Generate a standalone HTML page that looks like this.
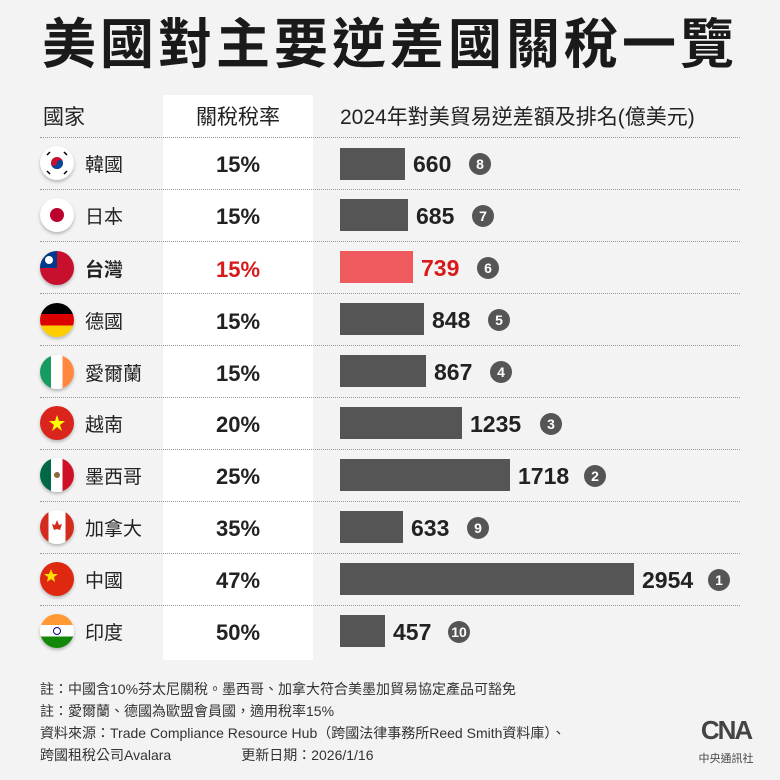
<!DOCTYPE html>
<html><head><meta charset="utf-8"><style>
body{margin:0;width:780px;height:780px;background:#f3f3f3;font-family:"Liberation Sans","Noto Sans CJK TC",sans-serif;position:relative;overflow:hidden;color:#222}
.a{position:absolute}
.title{left:0;width:780px;top:10px;text-align:center;font-size:54px;font-weight:bold;letter-spacing:4px;color:#1a1a1a;line-height:70px}
.col{left:163px;top:95px;width:150px;height:565px;background:#fff}
.hd{top:101px;font-size:21px;color:#222}
.div{left:40px;width:700px;border-top:1.5px dotted #999}
.flag{width:34px;height:34px;border-radius:50%;overflow:hidden;box-shadow:0 2px 3px rgba(0,0,0,.25)}
.nm{left:85px;font-size:19px}
.rt{left:163px;width:150px;text-align:center;font-size:22px;font-weight:bold}
.bar{left:340px;height:32px;background:#555}
.val{font-size:23px;font-weight:bold;color:#222}
.bd{width:22px;height:22px;border-radius:50%;background:#555;color:#fff;font-size:14px;font-weight:bold;text-align:center;line-height:22px}
.note{left:40px;font-size:14px;color:#333}
</style></head><body>
<div class="a title">美國對主要逆差國關稅一覽</div>
<div class="a col"></div>
<div class="a hd" style="left:43px">國家</div>
<div class="a hd" style="left:163px;width:150px;text-align:center">關稅稅率</div>
<div class="a hd" style="left:340px">2024年對美貿易逆差額及排名(億美元)</div>
<div class="a div" style="top:137px"></div>
<div class="a div" style="top:189px"></div>
<div class="a div" style="top:241px"></div>
<div class="a div" style="top:293px"></div>
<div class="a div" style="top:345px"></div>
<div class="a div" style="top:397px"></div>
<div class="a div" style="top:449px"></div>
<div class="a div" style="top:501px"></div>
<div class="a div" style="top:553px"></div>
<div class="a div" style="top:605px"></div>

<div class="a flag" style="left:40px;top:146px;background:#fff"><svg width="34" height="34"><circle cx="17" cy="17" r="6" fill="#c8102e"/><path d="M11 17a6 6 0 0 0 12 0a3 3 0 0 0-6 0a3 3 0 0 1-6 0z" fill="#0047a0"/><g stroke="#000" stroke-width="1.5"><line x1="7" y1="9" x2="10" y2="6"/><line x1="24" y1="6" x2="27" y2="9"/><line x1="7" y1="25" x2="10" y2="28"/><line x1="24" y1="28" x2="27" y2="25"/></g></svg></div>
<div class="a flag" style="left:40px;top:198px;background:#fff"><svg width="34" height="34"><circle cx="17" cy="17" r="7" fill="#bc002d"/></svg></div>
<div class="a flag" style="left:40px;top:251px;background:#c8102e"><svg width="34" height="34"><rect width="17" height="17" fill="#003a8c"/><circle cx="9" cy="9" r="4" fill="#fff"/></svg></div>
<div class="a flag" style="left:40px;top:303px;background:linear-gradient(#000 33%,#dd0000 33% 66%,#ffce00 66%)"></div>
<div class="a flag" style="left:40px;top:355px;background:linear-gradient(90deg,#169b62 33%,#fff 33% 66%,#ff883e 66%)"></div>
<div class="a flag" style="left:40px;top:406px;background:#da251d"><svg width="34" height="34"><polygon points="17,9 19,15 25,15 20,19 22,25 17,21 12,25 14,19 9,15 15,15" fill="#ff0"/></svg></div>
<div class="a flag" style="left:40px;top:458px;background:linear-gradient(90deg,#006847 33%,#fff 33% 66%,#ce1126 66%)"><svg width="34" height="34"><circle cx="17" cy="17" r="3" fill="#8a6a3a"/></svg></div>
<div class="a flag" style="left:40px;top:510px;background:linear-gradient(90deg,#d52b1e 25%,#fff 25% 75%,#d52b1e 75%)"><svg width="34" height="34"><polygon points="17,10 19,15 22,14 20,20 17,19 14,20 12,14 15,15" fill="#d52b1e"/></svg></div>
<div class="a flag" style="left:40px;top:562px;background:#de2910"><svg width="34" height="34"><polygon points="11,7 13,12 18,12 14,15 15,20 11,17 7,20 8,15 4,12 9,12" fill="#ffde00"/></svg></div>
<div class="a flag" style="left:40px;top:614px;background:linear-gradient(#ff9933 33%,#fff 33% 66%,#138808 66%)"><svg width="34" height="34"><circle cx="17" cy="17" r="3.5" fill="none" stroke="#000080" stroke-width="1"/></svg></div>

<div class="a nm" style="top:150px">韓國</div>
<div class="a nm" style="top:202px">日本</div>
<div class="a nm" style="top:255px;font-weight:bold">台灣</div>
<div class="a nm" style="top:307px">德國</div>
<div class="a nm" style="top:359px">愛爾蘭</div>
<div class="a nm" style="top:410px">越南</div>
<div class="a nm" style="top:462px">墨西哥</div>
<div class="a nm" style="top:514px">加拿大</div>
<div class="a nm" style="top:566px">中國</div>
<div class="a nm" style="top:618px">印度</div>

<div class="a rt" style="top:152px">15%</div>
<div class="a rt" style="top:204px">15%</div>
<div class="a rt" style="top:257px;color:#d71a1a">15%</div>
<div class="a rt" style="top:309px">15%</div>
<div class="a rt" style="top:361px">15%</div>
<div class="a rt" style="top:412px">20%</div>
<div class="a rt" style="top:464px">25%</div>
<div class="a rt" style="top:516px">35%</div>
<div class="a rt" style="top:568px">47%</div>
<div class="a rt" style="top:620px">50%</div>

<div class="a bar" style="top:148px;width:65px"></div><div class="a val" style="left:413px;top:151px">660</div><div class="a bd" style="left:469px;top:153px">8</div>
<div class="a bar" style="top:199px;width:68px"></div><div class="a val" style="left:416px;top:203px">685</div><div class="a bd" style="left:472px;top:205px">7</div>
<div class="a bar" style="top:251px;width:73px;background:#ef5a5f"></div><div class="a val" style="left:421px;top:255px;color:#d71a1a">739</div><div class="a bd" style="left:477px;top:257px">6</div>
<div class="a bar" style="top:303px;width:84px"></div><div class="a val" style="left:432px;top:307px">848</div><div class="a bd" style="left:488px;top:309px">5</div>
<div class="a bar" style="top:355px;width:86px"></div><div class="a val" style="left:434px;top:359px">867</div><div class="a bd" style="left:490px;top:361px">4</div>
<div class="a bar" style="top:407px;width:122px"></div><div class="a val" style="left:470px;top:411px">1235</div><div class="a bd" style="left:540px;top:413px">3</div>
<div class="a bar" style="top:459px;width:170px"></div><div class="a val" style="left:518px;top:463px">1718</div><div class="a bd" style="left:584px;top:465px">2</div>
<div class="a bar" style="top:511px;width:63px"></div><div class="a val" style="left:411px;top:515px">633</div><div class="a bd" style="left:467px;top:517px">9</div>
<div class="a bar" style="top:563px;width:294px"></div><div class="a val" style="left:642px;top:567px">2954</div><div class="a bd" style="left:708px;top:569px">1</div>
<div class="a bar" style="top:615px;width:45px"></div><div class="a val" style="left:393px;top:619px">457</div><div class="a bd" style="left:448px;top:621px">10</div>

<div class="a note" style="top:679px">註：中國含10%芬太尼關稅。墨西哥、加拿大符合美墨加貿易協定產品可豁免</div>
<div class="a note" style="top:701px">註：愛爾蘭、德國為歐盟會員國，適用稅率15%</div>
<div class="a note" style="top:723px">資料來源：Trade Compliance Resource Hub（跨國法律事務所Reed Smith資料庫）、</div>
<div class="a note" style="top:745px">跨國租稅公司Avalara<span style="margin-left:70px">更新日期：2026/1/16</span></div>
<div class="a" style="left:690px;top:715px;width:72px;text-align:center;font-size:26px;font-weight:bold;color:#444;letter-spacing:-2px">CNA</div>
<div class="a" style="left:690px;top:750px;width:72px;text-align:center;font-size:11px;color:#444">中央通訊社</div>
</body></html>
